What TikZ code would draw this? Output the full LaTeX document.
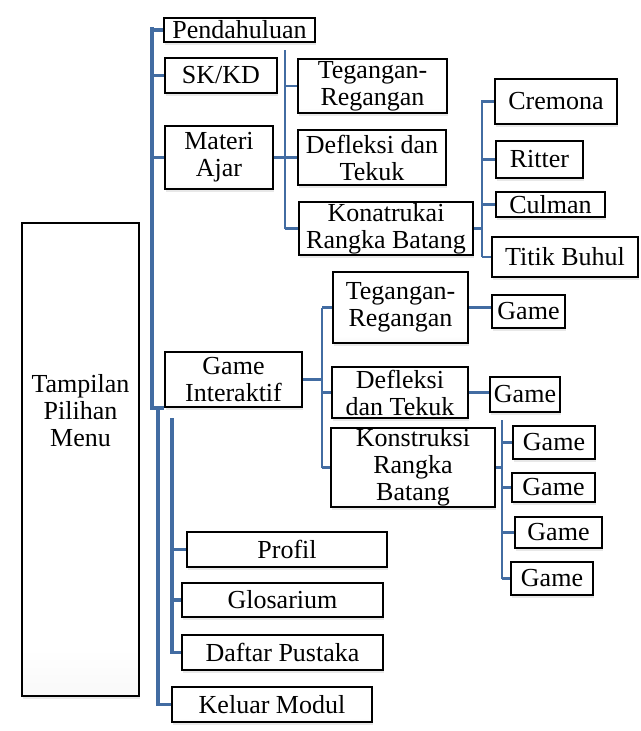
\documentclass[tikz,border=0pt]{standalone}
\usepackage{fontspec}
\setmainfont{Liberation Serif}
\usetikzlibrary{shadows}
\definecolor{busblue}{RGB}{66,108,162}
\pgfdeclareverticalshading{bevel}{100bp}{color(0bp)=(black!32); color(14bp)=(black!8); color(30bp)=(white); color(100bp)=(white)}

\tikzset{
  menubox/.style={draw=black, line width=2.4pt, inner sep=0pt,
    shading=bevel,
    drop shadow={shadow xshift=1pt, shadow yshift=-3pt, opacity=.18},
    align=center, font=\fontsize{26}{27}\selectfont},
  bus/.style={busblue, line width=3.5pt},
  subbus/.style={busblue, line width=2.6pt}
}

\begin{document}
\begin{tikzpicture}[x=1pt,y=-1pt]
\useasboundingbox (0,0) rectangle (640,731);

% Root
\node[menubox, minimum width=117pt, minimum height=473pt] (menu) at (80.5,459.5) {};
\node[align=center, font=\fontsize{26}{27}\selectfont] (menutext) at ([yshift=49pt]menu.center) {Tampilan\\Pilihan\\Menu};

% First level
\node[menubox, minimum width=151pt, minimum height=24pt] (pend) at (239.5,30) {Pendahuluan};
\node[menubox, minimum width=112pt, minimum height=35pt] (skkd) at (221,75.5) {SK/KD};
\node[menubox, minimum width=108pt, minimum height=63pt] (materi) at (219,157.5) {Materi\\Ajar};
\node[menubox, minimum width=137pt, minimum height=55pt] (game) at (233.5,379.5) {Game\\Interaktif};
\node[menubox, minimum width=200pt, minimum height=35pt] (profil) at (287,549.5) {Profil};
\node[menubox, minimum width=201pt, minimum height=34pt] (glos) at (282.5,600) {Glosarium};
\node[menubox, minimum width=201pt, minimum height=35pt] (daftar) at (282.5,652.5) {Daftar Pustaka};
\node[menubox, minimum width=200pt, minimum height=35pt] (keluar) at (272,704.5) {Keluar Modul};

% Materi Ajar
\node[menubox, minimum width=149pt, minimum height=54pt] (tegA) at (372.5,86) {Tegangan-\\Regangan};
\node[menubox, minimum width=148pt, minimum height=55pt] (defA) at (372,157.5) {Defleksi dan\\Tekuk};
\node[menubox, minimum width=174pt, minimum height=53pt] (konA) at (386,228.5) {Konatrukai\\Rangka Batang};
\node[menubox, minimum width=122pt, minimum height=45pt] (cremona) at (556,101.5) {Cremona};
\node[menubox, minimum width=87pt, minimum height=37pt] (ritter) at (539.5,159.5) {Ritter};
\node[menubox, minimum width=109pt, minimum height=25pt] (culman) at (550.5,204.5) {Culman};
\node[menubox, minimum width=146pt, minimum height=40pt] (titik) at (565,257) {Titik Buhul};

% Game Interaktif
\node[menubox, minimum width=135pt, minimum height=71pt] (tegB) at (400.5,307.5) {Tegangan-\\Regangan};
\node[menubox, minimum width=136pt, minimum height=51pt] (defB) at (400,392.5) {Defleksi\\dan Tekuk};
\node[menubox, minimum width=164pt, minimum height=79pt] (konB) at (413,467.5) {Konstruksi\\Rangka\\Batang};
\node[menubox, minimum width=73pt, minimum height=33pt] (gameA) at (528.5,311.5) {Game};
\node[menubox, minimum width=70pt, minimum height=35pt] (gameB) at (525,394.5) {Game};
\node[menubox, minimum width=82pt, minimum height=33pt] (gameC) at (554,442.5) {Game};
\node[menubox, minimum width=83pt, minimum height=29pt] (gameD) at (553.5,487.5) {Game};
\node[menubox, minimum width=87pt, minimum height=31pt] (gameE) at (558.5,532.5) {Game};
\node[menubox, minimum width=82pt, minimum height=33pt] (gameF) at (552,578.5) {Game};

% Main bus
\coordinate (trunk) at (152,27);
\draw[bus] (trunk) |- (game.south west);
\foreach \n in {pend,skkd,materi}
  \draw[bus] (trunk |- \n.west) -- (\n.west);
\coordinate (trunkB) at (158,410);
\draw[bus] (trunkB) |- (keluar.west);
\coordinate (trunkC) at (172,418);
\draw[bus] (trunkC) |- (daftar.west);
\foreach \n in {profil,glos}
  \draw[bus] (trunkC |- \n.west) -- (\n.west);

% Materi Ajar bus
\coordinate (matbus) at (285,50);
\draw[subbus] (matbus) -- (matbus |- konA.west);
\draw[subbus] (materi.east) -- (matbus |- materi.east);
\foreach \n in {tegA,defA,konA}
  \draw[subbus] (matbus |- \n.west) -- (\n.west);

% Konstruksi bus
\coordinate (konbus) at (482,100);
\draw[subbus] (konbus) -- (konbus |- titik.west);
\draw[subbus] (konA.east) -- (konbus |- konA.east);
\foreach \n in {cremona,ritter,culman,titik}
  \draw[subbus] (konbus |- \n.west) -- (\n.west);

% Game bus
\coordinate (gamebus) at (322,308);
\draw[subbus] (gamebus) -- (322,468);
\draw[subbus] (game.east) -- (gamebus |- game.east);
\foreach \n in {tegB,defB,konB}
  \draw[subbus] (gamebus |- \n.west) -- (\n.west);
\draw[subbus] (tegB.east) -- (tegB.east -| gameA.west);
\draw[subbus] (defB.east) -- (defB.east -| gameB.west);

% Konstruksi game bus
\coordinate (kgbus) at (502,420);
\draw[subbus] (kgbus) -- (kgbus |- gameF.west);
\draw[subbus] (konB.east) -- (kgbus |- konB.east);
\foreach \n in {gameC,gameD,gameE,gameF}
  \draw[subbus] (kgbus |- \n.west) -- (\n.west);
\end{tikzpicture}
\end{document}
